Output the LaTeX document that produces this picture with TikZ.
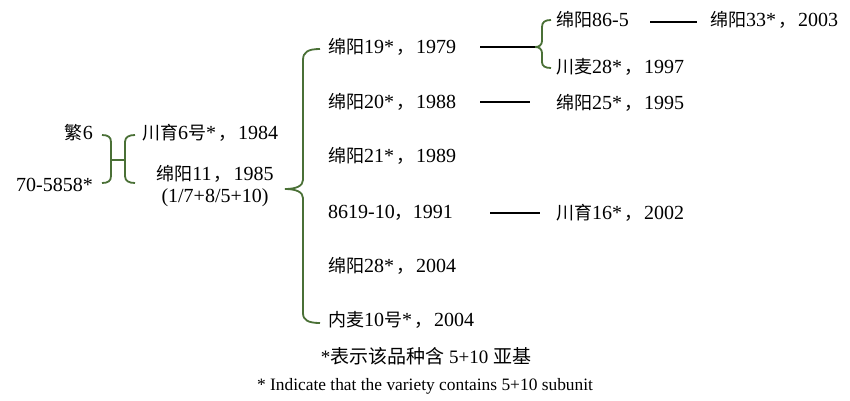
\documentclass[tikz,border=0pt]{standalone}
\usepackage{fontspec}
\setmainfont{Liberation Serif}
\newfontfamily\cjk{Noto Sans CJK SC}[Scale=0.9]
\newfontfamily\cjkfull{Noto Sans CJK SC}
\newcommand\zh[1]{{\cjk #1}}
\newcommand\zf[1]{{\cjkfull #1}}
\newcommand\cm{\hspace{2pt}{\cjk ，}\hspace{2pt}}
\definecolor{brgreen}{RGB}{74,112,54}
\tikzset{
  lbl/.style={inner sep=0pt, font=\fontsize{20}{22}\selectfont},
  lw/.style={lbl, anchor=west},
  le/.style={lbl, anchor=east},
  br/.style={draw=brgreen, line width=1.8pt},
  ln/.style={draw=black, line width=1.6pt},
  foot/.style={inner sep=0pt}
}
\begin{document}
\begin{tikzpicture}[x=1pt,y=-1pt]
\useasboundingbox (0,0) rectangle (850,400);
% left parents
\node[le] (fan6) at (93,133) {\zh{繁}6};
\node[le] (p70) at (93,185) {70-5858*};
% second generation
\node[lw] (cy6) at (142,133) {\zh{川育}6\zh{号}*\cm 1984};
\node[lbl, align=center] (my11) at (215,186) {\zh{绵阳}11\cm 1985\\(1/7+8/5+10)};
% third generation
\node[lw] (my19) at (328,47) {\zh{绵阳}19*\cm 1979};
\node[lw] (my20) at (328,102) {\zh{绵阳}20*\cm 1988};
\node[lw] (my21) at (328,156) {\zh{绵阳}21*\cm 1989};
\node[lw] (n8619) at (328,213) {8619-10\zh{，}1991};
\node[lw] (my28) at (328,266) {\zh{绵阳}28*\cm 2004};
\node[lw] (nm10) at (328,320) {\zh{内麦}10\zh{号}*\cm 2004};
% fourth generation
\node[lw] (my86) at (556,20) {\zh{绵阳}86-5};
\node[lw] (cm28) at (556,67) {\zh{川麦}28*\cm 1997};
\node[lw] (my25) at (556,103) {\zh{绵阳}25*\cm 1995};
\node[lw] (cy16) at (556,213) {\zh{川育}16*\cm 2002};
\node[lw] (my33) at (710,20) {\zh{绵阳}33*\cm 2003};
% footnotes
\node[foot, font=\fontsize{19}{21}\selectfont] (fn1) at (426,356) {*\zf{表示该品种含} 5+10 \zf{亚基}};
\node[foot, font=\fontsize{17.4}{20}\selectfont] (fn2) at (425,386) {* Indicate that the variety contains 5+10 subunit};
% H-shaped brace
\draw[br] (102,135) .. controls (108,135) and (111,137) .. (111,142) -- (111,176) .. controls (111,181) and (108,183) .. (102,183);
\draw[br] (111,160) -- (125,160);
\draw[br] (135,135) .. controls (129,135) and (125,137) .. (125,142) -- (125,176) .. controls (125,181) and (129,183) .. (135,183);
% big brace
\coordinate (bigtip) at (285,189);
\draw[br] (320,49) .. controls (308,49) and (303,52) .. (303,60) -- (303,180) .. controls (303,186) and (296,189) .. (bigtip) .. controls (296,189) and (303,192) .. (303,198) -- (303,313) .. controls (303,320) and (308,323) .. (320,323);
% small brace
\coordinate (smtip) at (535,47);
\draw[br] (551,20) .. controls (545,20) and (542,22) .. (542,27) -- (542,41) .. controls (542,45) and (539,47) .. (smtip) .. controls (539,47) and (542,49) .. (542,53) -- (542,62) .. controls (542,66) and (545,68) .. (551,68);
% connectors
\coordinate (c19a) at (480,47);
\draw[ln] (c19a) -- (smtip);
\coordinate (c20a) at (480,102);
\coordinate (c20b) at (530,102);
\draw[ln] (c20a) -- (c20b);
\coordinate (c86a) at (650,22);
\coordinate (c86b) at (697,22);
\draw[ln] (c86a) -- (c86b);
\coordinate (c91a) at (490,213);
\coordinate (c91b) at (540,213);
\draw[ln] (c91a) -- (c91b);
\end{tikzpicture}
\end{document}
